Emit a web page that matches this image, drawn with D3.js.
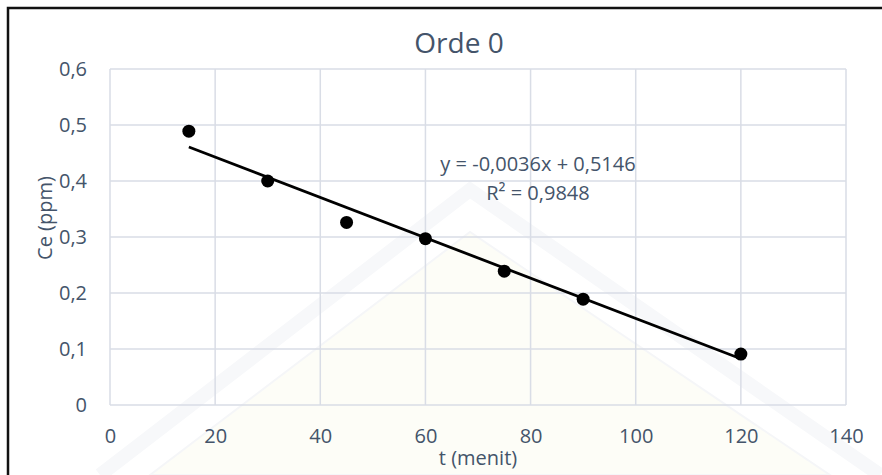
<!DOCTYPE html>
<html>
<head>
<meta charset="utf-8">
<script src="https://cdn.jsdelivr.net/npm/d3@7"></script>
<style>
  body { margin: 0; background: #fff; }
  svg { display: block; font-family: "Open Sans", sans-serif; }
</style>
</head>
<body>
<script>
var w = 882, h = 475;

// data
var tMenit = [15, 30, 45, 60, 75, 90, 120];
var ce = [0.489, 0.400, 0.326, 0.297, 0.239, 0.189, 0.091];
var slope = -0.0036, intercept = 0.5146;
var xTicks = [0, 20, 40, 60, 80, 100, 120, 140];
var yTicks = [0, 0.1, 0.2, 0.3, 0.4, 0.5, 0.6];
var eqLabel = "y = -0,0036x + 0,5146";
var r2Label = "R² = 0,9848";

var textCol = "#44546a", gridCol = "#d9dde6";

var svg = d3.select("body")
    .append("svg")
    .attr("width", w)
    .attr("height", h);

var xScale = d3.scaleLinear().domain([0, 140]).range([110, 846]);
var yScale = d3.scaleLinear().domain([0, 0.6]).range([405, 69]);

var comma = d => String(+d.toFixed(1)).replace(".", ",");

// very faint watermark in the background
var wm = svg.append("g");
wm.append("path")
    .attr("d", "M150,475 L470,232 L830,475 Z")
    .style("fill", "#fdfdf7")
    .style("stroke", "#f5f6f8")
    .style("stroke-width", 2);
wm.append("path")
    .attr("d", "M100,475 L470,190 L880,475")
    .style("fill", "none")
    .style("stroke", "#f7f8fa")
    .style("stroke-width", 14);

// outer frame
svg.append("rect")
    .attr("x", 8).attr("y", 8)
    .attr("width", w + 20).attr("height", h + 20)
    .style("fill", "none")
    .style("stroke", "#111")
    .style("stroke-width", 2.5);

// gridlines
svg.append("g")
    .selectAll("line.v")
    .data(xTicks)
    .enter().append("line")
    .attr("x1", d => xScale(d)).attr("x2", d => xScale(d))
    .attr("y1", yScale(0.6)).attr("y2", yScale(0))
    .style("stroke", gridCol).style("stroke-width", 1.5);

svg.append("g")
    .selectAll("line.h")
    .data(yTicks)
    .enter().append("line")
    .attr("x1", xScale(0)).attr("x2", xScale(140))
    .attr("y1", d => yScale(d)).attr("y2", d => yScale(d))
    .style("stroke", gridCol).style("stroke-width", 1.5);

// axes (labels only)
var xAxis = d3.axisBottom(xScale)
    .tickValues(xTicks)
    .tickSize(0)
    .tickPadding(24)
    .tickFormat(d => d);

var yAxis = d3.axisLeft(yScale)
    .tickValues(yTicks)
    .tickSize(0)
    .tickPadding(23)
    .tickFormat(comma);

var gx = svg.append("g")
    .attr("transform", "translate(0," + yScale(0) + ")")
    .call(xAxis);
var gy = svg.append("g")
    .attr("transform", "translate(" + xScale(0) + ",0)")
    .call(yAxis);

[gx, gy].forEach(function(g) {
    g.select(".domain").remove();
    g.selectAll("text")
        .style("font-family", "'Open Sans', sans-serif")
        .style("font-size", "20px")
        .style("fill", textCol);
});

// trendline
svg.append("line")
    .attr("x1", xScale(d3.min(tMenit)))
    .attr("y1", yScale(slope * d3.min(tMenit) + intercept))
    .attr("x2", xScale(d3.max(tMenit)))
    .attr("y2", yScale(slope * d3.max(tMenit) + intercept))
    .style("stroke", "#000")
    .style("stroke-width", 2.8);

// points
svg.append("g")
    .selectAll("circle")
    .data(tMenit)
    .enter().append("circle")
    .attr("cx", d => xScale(d))
    .attr("cy", (d, i) => yScale(ce[i]))
    .attr("r", 6.5)
    .style("fill", "#000");

// title and labels
svg.append("text")
    .text("Orde 0")
    .attr("x", 459).attr("y", 53)
    .attr("text-anchor", "middle")
    .style("font-size", "28px")
    .style("fill", textCol);

svg.append("text")
    .text("t (menit)")
    .attr("x", 478).attr("y", 465)
    .attr("text-anchor", "middle")
    .style("font-size", "20px")
    .style("fill", textCol);

svg.append("text")
    .text("Ce (ppm)")
    .attr("transform", "translate(52,218) rotate(-90)")
    .attr("text-anchor", "middle")
    .style("font-size", "20px")
    .style("fill", textCol);

svg.append("text")
    .text(eqLabel)
    .attr("x", 538).attr("y", 171)
    .attr("text-anchor", "middle")
    .style("font-size", "20px")
    .style("fill", textCol);

svg.append("text")
    .text(r2Label)
    .attr("x", 538).attr("y", 200)
    .attr("text-anchor", "middle")
    .style("font-size", "20px")
    .style("fill", textCol);
</script>
</body>
</html>
